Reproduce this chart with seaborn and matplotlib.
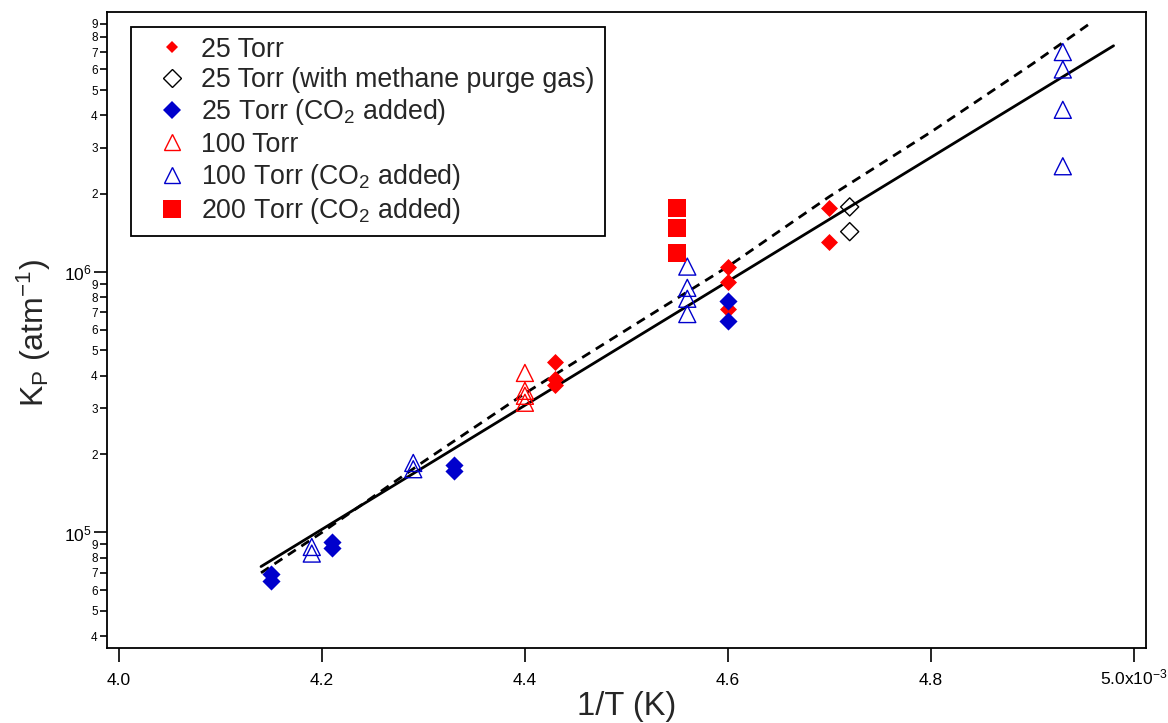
import matplotlib
matplotlib.use("Agg")
import matplotlib.pyplot as plt
import matplotlib.ticker as mticker
from matplotlib.lines import Line2D
import seaborn as sns
import numpy as np

# ---------------- data (x in units of 1e-3 K^-1) ----------------
x_25 = [4.43, 4.43, 4.43, 4.60, 4.60, 4.60, 4.70, 4.70]
y_25 = [4.5e5, 3.9e5, 3.7e5, 1.05e6, 9.2e5, 7.2e5, 1.77e6, 1.31e6]

x_25_methane = [4.72, 4.72]
y_25_methane = [1.78e6, 1.43e6]

x_25_co2 = [4.15, 4.15, 4.21, 4.21, 4.33, 4.33, 4.60, 4.60]
y_25_co2 = [6.9e4, 6.5e4, 9.2e4, 8.7e4, 1.82e5, 1.72e5, 7.75e5, 6.5e5]

x_100 = [4.40, 4.40, 4.40, 4.40]
y_100 = [4.1e5, 3.5e5, 3.35e5, 3.15e5]

x_100_co2 = [4.19, 4.19, 4.29, 4.29, 4.56, 4.56, 4.56, 4.56, 4.93, 4.93, 4.93, 4.93]
y_100_co2 = [8.8e4, 8.3e4, 1.85e5, 1.75e5, 1.05e6, 8.7e5, 7.9e5, 6.9e5,
             7.0e6, 6.0e6, 4.2e6, 2.55e6]

x_200_co2 = [4.55, 4.55, 4.55]
y_200_co2 = [1.77e6, 1.48e6, 1.18e6]

fit_x = [4.14, 4.98]
fit_y = [7.4e4, 7.4e6]

model_x = [4.14, 4.20, 4.30, 4.40, 4.50, 4.60, 4.70, 4.80, 4.90, 4.96]
model_y = [7.0e4, 1.0e5, 1.87e5, 3.42e5, 6.0e5, 1.05e6, 1.95e6, 3.45e6, 6.3e6, 9.2e6]

x_ticks = [4.0, 4.2, 4.4, 4.6, 4.8, 5.0]
x_tick_labels = ["4.0", "4.2", "4.4", "4.6", "4.8", "5.0x10$^{-3}$"]
y_major_ticks = [1e5, 1e6]

legend_labels = ["25 Torr", "25 Torr (with methane purge gas)", "25 Torr (CO$_2$ added)",
                 "100 Torr", "100 Torr (CO$_2$ added)", "200 Torr (CO$_2$ added)"]

# ---------------- style ----------------
sns.set_theme(style="ticks")
plt.rcParams["font.family"] = ["Liberation Sans", "DejaVu Sans"]
plt.rcParams["mathtext.fontset"] = "custom"
plt.rcParams["mathtext.rm"] = "Liberation Sans"
plt.rcParams["mathtext.it"] = "Liberation Sans:italic"
plt.rcParams["mathtext.bf"] = "Liberation Sans:bold"
plt.rcParams["mathtext.default"] = "regular"

RED = "#ff0000"
BLUE = "#0000cc"

fig = plt.figure(figsize=(11.68, 7.23), dpi=100)
ax = fig.add_axes([0.0914, 0.1037, 0.8898, 0.8801])
ax.set_facecolor("white")

# lines
sns.lineplot(x=model_x, y=model_y, ax=ax, color="black", lw=2.0,
             linestyle=(0, (3.4, 2.4)), sort=False, estimator=None, zorder=2)
sns.lineplot(x=fit_x, y=fit_y, ax=ax, color="black", lw=2.0,
             sort=False, estimator=None, zorder=2)

# points
sns.scatterplot(x=x_25, y=y_25, ax=ax, marker="D", s=75, color=RED,
                edgecolor=RED, linewidth=0, legend=False, zorder=3)
sns.scatterplot(x=x_25_methane, y=y_25_methane, ax=ax, marker="D", s=85,
                color="black", facecolor="none", edgecolor="black",
                linewidth=1.0, legend=False, zorder=3)
sns.scatterplot(x=x_25_co2, y=y_25_co2, ax=ax, marker="D", s=85, color=BLUE,
                edgecolor=BLUE, linewidth=0, legend=False, zorder=3)
sns.scatterplot(x=x_100, y=y_100, ax=ax, marker="^", s=150, color=RED,
                facecolor="none", edgecolor=RED, linewidth=1.0,
                legend=False, zorder=3)
sns.scatterplot(x=x_100_co2, y=y_100_co2, ax=ax, marker="^", s=150, color=BLUE,
                facecolor="none", edgecolor=BLUE, linewidth=1.0,
                legend=False, zorder=3)
sns.scatterplot(x=x_200_co2, y=y_200_co2, ax=ax, marker="s", s=165, color=RED,
                edgecolor=RED, linewidth=0, legend=False, zorder=3)

# axes
ax.set_yscale("log")
ax.set_xlim(3.988, 5.012)
ax.set_ylim(3.6e4, 1.0e7)

ax.set_xticks(x_ticks)
ax.set_xticklabels(x_tick_labels)
ax.xaxis.set_minor_locator(mticker.NullLocator())
for lab in ax.get_xticklabels():
    lab.set_verticalalignment("baseline")

ax.yaxis.set_major_locator(mticker.FixedLocator(y_major_ticks))
ax.yaxis.set_major_formatter(mticker.FuncFormatter(
    lambda v, p: "10$^{%d}$" % int(round(np.log10(v)))))
ax.yaxis.set_minor_locator(mticker.LogLocator(base=10, subs=np.arange(2, 10), numticks=20))
ax.yaxis.set_minor_formatter(mticker.FuncFormatter(
    lambda v, p: "%d" % int(round(v / 10 ** np.floor(np.log10(v) + 1e-9)))))

ax.tick_params(axis="x", which="major", direction="out", length=10, width=1.2,
               labelsize=12.5, pad=16.5, colors="black", top=False)
ax.tick_params(axis="y", which="major", direction="out", length=9.5, width=1.2,
               labelsize=12.5, pad=1.5, colors="black", right=False)
ax.tick_params(axis="y", which="minor", direction="out", length=5, width=1.2,
               labelsize=8.5, pad=1.5, colors="black", right=False)

for sp in ax.spines.values():
    sp.set_visible(True)
    sp.set_color("black")
    sp.set_linewidth(1.3)

ax.set_xlabel("1/T (K)", fontsize=23.5)
ax.xaxis.set_label_coords(0.5, -0.068)
ax.xaxis.label.set_verticalalignment("top")
ax.set_ylabel("K$_\\mathregular{P}$ (atm$^{-1}$)", fontsize=23)
ax.yaxis.set_label_coords(-0.052, 0.495)

# legend
handles = [
    Line2D([], [], ls="none", marker="D", ms=6.5, mfc=RED, mec=RED, mew=0),
    Line2D([], [], ls="none", marker="D", ms=9, mfc="none", mec="black", mew=1.0),
    Line2D([], [], ls="none", marker="D", ms=9, mfc=BLUE, mec=BLUE, mew=0),
    Line2D([], [], ls="none", marker="^", ms=12, mfc="none", mec=RED, mew=1.0),
    Line2D([], [], ls="none", marker="^", ms=12, mfc="none", mec=BLUE, mew=1.0),
    Line2D([], [], ls="none", marker="s", ms=13, mfc=RED, mec=RED, mew=0),
]
leg = ax.legend(handles, legend_labels, loc="upper left",
                bbox_to_anchor=(0.0232, 0.9765), borderaxespad=0,
                fontsize=19.3, frameon=True, fancybox=False, framealpha=1,
                edgecolor="black", borderpad=0.38, labelspacing=0.16,
                handlelength=2.33, handletextpad=-0.08)
leg.get_frame().set_linewidth(1.3)

fig.savefig("out.png", dpi=100, facecolor="white")
